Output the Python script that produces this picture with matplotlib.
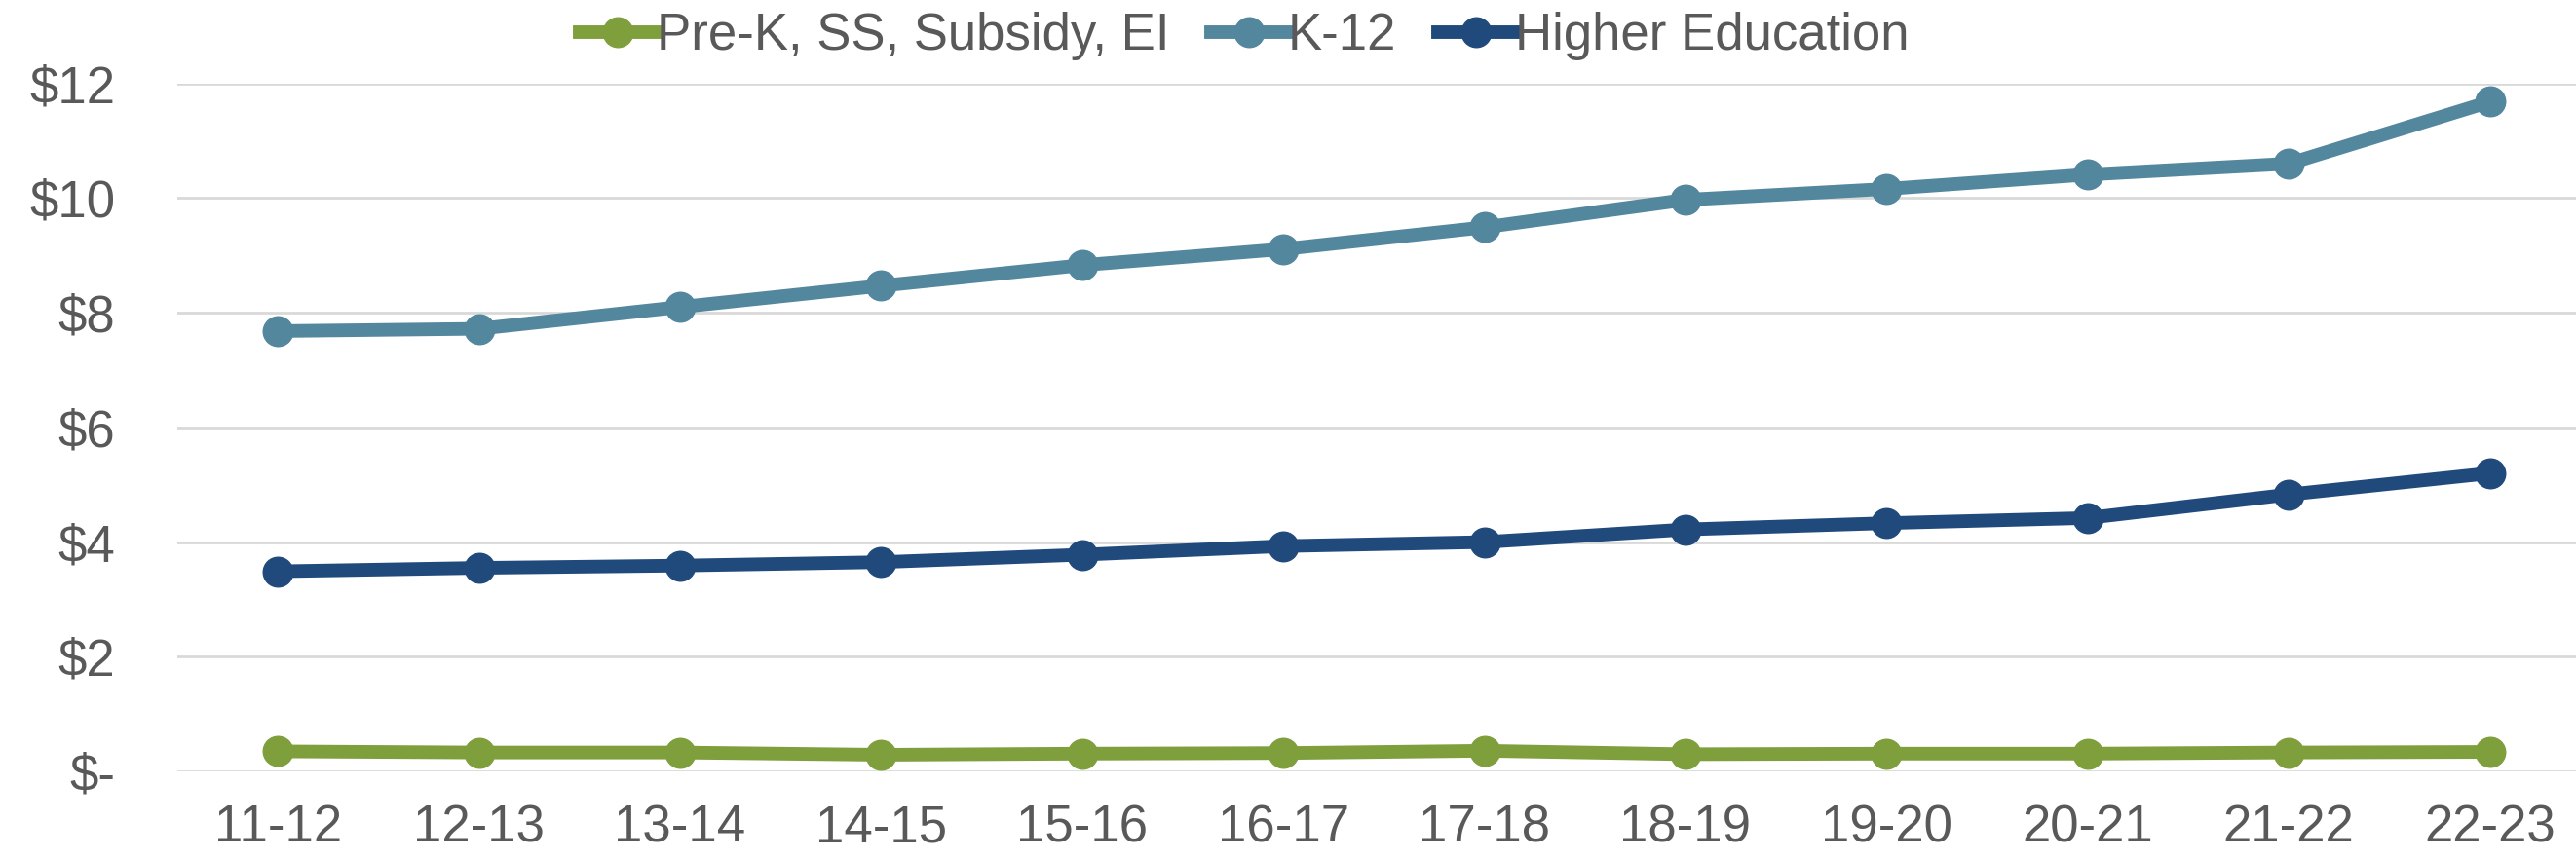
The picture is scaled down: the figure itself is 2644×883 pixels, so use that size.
import matplotlib
matplotlib.use('Agg')
import matplotlib.pyplot as plt

years = ["11-12", "12-13", "13-14", "14-15", "15-16", "16-17",
         "17-18", "18-19", "19-20", "20-21", "21-22", "22-23"]
prek = [0.35, 0.33, 0.33, 0.29, 0.31, 0.32, 0.36, 0.30, 0.31, 0.31, 0.33, 0.34]
k12 = [7.68, 7.72, 8.10, 8.47, 8.83, 9.11, 9.49, 9.97, 10.16, 10.41, 10.60, 11.68]
higher_ed = [3.49, 3.55, 3.59, 3.65, 3.78, 3.93, 4.00, 4.22, 4.33, 4.42, 4.83, 5.20]

series = [("Pre-K, SS, Subsidy, EI", prek, "#7F9F3D"),
          ("K-12", k12, "#53879E"),
          ("Higher Education", higher_ed, "#214A7C")]

plt.rcParams['font.family'] = ['Liberation Sans', 'DejaVu Sans']
text_color = "#595959"

fig = plt.figure(figsize=(26.44, 8.83), dpi=100)
# plot area runs a little past the right edge of the picture, as in the source
ax = fig.add_axes([0.0688, 0.103, 0.9368, 0.800])

x = range(len(years))
for label, vals, color in series:
    ax.plot(x, vals, color=color, linewidth=10, marker='o', markersize=22,
            label=label, solid_joinstyle='round')

ax.set_ylim(0, 12)
ax.set_xlim(-0.5, 11.5)
ax.set_yticks(range(0, 13, 2))
ax.set_yticklabels(["$-"] + ["$%d" % v for v in range(2, 13, 2)])
ax.set_xticks(list(x))
ax.set_xticklabels(years)
ax.tick_params(axis='both', length=0, labelsize=38, colors=text_color)
ax.tick_params(axis='y', pad=46)
ax.tick_params(axis='x', pad=24)
ax.grid(axis='y', color="#D9D9D9", linewidth=2)
ax.set_axisbelow(True)
for s in ax.spines.values():
    s.set_visible(False)

fig.legend(loc='center', bbox_to_anchor=(0.483, 0.958), ncol=3, frameon=False,
           fontsize=38, handlelength=1.5, handletextpad=0.0, columnspacing=0.8,
           labelcolor=text_color)

fig.savefig("out.png", dpi=100, facecolor='white')
